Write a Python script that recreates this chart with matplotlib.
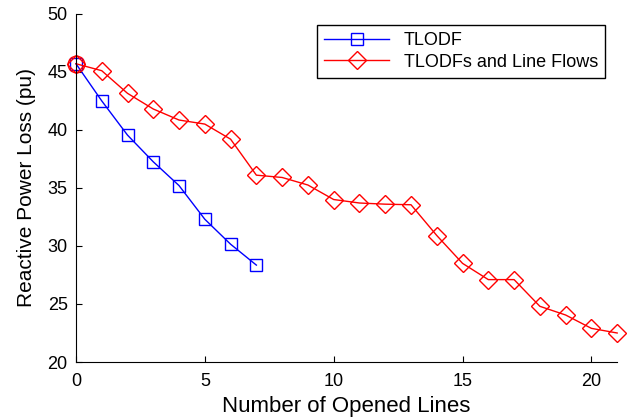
import matplotlib
matplotlib.use('Agg')
import matplotlib.pyplot as plt

plt.rcParams['font.family'] = ['Liberation Sans', 'DejaVu Sans']

# Data
x_tlodf = [0, 1, 2, 3, 4, 5, 6, 7]
y_tlodf = [45.7, 42.5, 39.55, 37.25, 35.2, 32.3, 30.15, 28.35]

x_flows = list(range(22))
y_flows = [45.7, 45.1, 43.15, 41.8, 40.85, 40.5, 39.2, 36.1, 35.9, 35.25,
           34.0, 33.7, 33.6, 33.55, 30.9, 28.5, 27.1, 27.1, 24.8, 24.05,
           22.9, 22.5]

start_x = [0]
start_y = [45.7]

fig = plt.figure(figsize=(6.33, 4.19), dpi=100)
ax = fig.add_axes([0.12, 0.136, 0.855, 0.831])

ax.plot(x_tlodf, y_tlodf, color='blue', marker='s', markersize=9,
        markerfacecolor='none', markeredgewidth=1.0, linewidth=1.0,
        label='TLODF', clip_on=False)
ax.plot(x_flows, y_flows, color='red', marker='D', markersize=9.5,
        markerfacecolor='none', markeredgewidth=1.0, linewidth=1.0,
        label='TLODFs and Line Flows', clip_on=False)
ax.plot(start_x, start_y, color='red', marker='o', markersize=12,
        markerfacecolor='none', markeredgewidth=1.0, linestyle='none',
        clip_on=False)

ax.set_xlim(0, 21)
ax.set_ylim(20, 50)
ax.set_xticks([0, 5, 10, 15, 20])
ax.set_yticks([20, 25, 30, 35, 40, 45, 50])
ax.tick_params(direction='in', labelsize=13, length=4, width=0.8)
ax.tick_params(axis='x', pad=8)
ax.tick_params(axis='y', pad=6)
ax.spines['top'].set_visible(False)
ax.spines['right'].set_visible(False)

ax.set_xlabel('Number of Opened Lines', fontsize=16, labelpad=4)
ax.set_ylabel('Reactive Power Loss (pu)', fontsize=15, labelpad=8)

leg = ax.legend(loc='upper right', bbox_to_anchor=(0.978, 0.968), fontsize=13,
                fancybox=False, edgecolor='black', framealpha=1,
                handlelength=3.6, borderpad=0.4, labelspacing=0.25,
                borderaxespad=0)
leg.get_frame().set_linewidth(1.0)

fig.savefig('out.png', dpi=100)
